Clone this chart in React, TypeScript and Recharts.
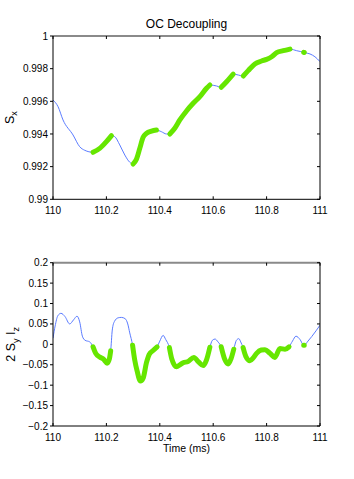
import React from 'react';
import { LineChart, Line, XAxis, YAxis } from 'recharts';

// ---- data ----
const tTop = [
  110.0, 110.019, 110.0375, 110.075, 110.1, 110.119, 110.15, 110.175, 110.2, 110.219,
  110.231, 110.25, 110.269, 110.2875, 110.3, 110.3125, 110.325, 110.3375, 110.35, 110.369,
  110.3875, 110.406, 110.425, 110.4375, 110.456, 110.475, 110.5, 110.525, 110.55, 110.575,
  110.5875, 110.6125, 110.63, 110.65, 110.675, 110.694, 110.7125, 110.731, 110.756, 110.781,
  110.8, 110.819, 110.8375, 110.8625, 110.8875, 110.9125, 110.939, 110.941, 110.9625, 110.981, 111.0,
];
const sx = [
  0.99608, 0.99567, 0.99486, 0.99394, 0.99322, 0.993, 0.99288, 0.99312, 0.99353, 0.9939,
  0.99384, 0.99333, 0.99271, 0.99227, 0.99216, 0.99245, 0.99312, 0.9938, 0.99404, 0.99418,
  0.99424, 0.99414, 0.994, 0.994, 0.99435, 0.99486, 0.99541, 0.99588, 0.99629, 0.9968,
  0.997, 0.99694, 0.99686, 0.9972, 0.99767, 0.99761, 0.99755, 0.99788, 0.99829, 0.99847,
  0.99857, 0.99873, 0.99898, 0.9991, 0.9992, 0.9991, 0.999, 0.99899, 0.9989, 0.99873, 0.99843,
];

const tBot = [
  110.0, 110.008, 110.018, 110.03, 110.045, 110.0625, 110.077, 110.09, 110.1, 110.11,
  110.12, 110.1375, 110.15, 110.16, 110.175, 110.19, 110.2025, 110.211, 110.216, 110.222,
  110.23, 110.244, 110.256, 110.27, 110.28, 110.2875, 110.298, 110.306, 110.315, 110.3275,
  110.3375, 110.35, 110.36, 110.375, 110.39, 110.4, 110.4125, 110.422, 110.436, 110.445,
  110.4625, 110.475, 110.4875, 110.506, 110.5275, 110.545, 110.5625, 110.575, 110.5875, 110.597,
  110.607, 110.618, 110.63, 110.644, 110.656, 110.667, 110.677, 110.687, 110.696, 110.703,
  110.712, 110.7225, 110.7375, 110.75, 110.7625, 110.78, 110.794, 110.8125, 110.831, 110.85,
  110.869, 110.884, 110.897, 110.91, 110.925, 110.939, 110.941, 110.955, 110.969, 110.985, 111.0,
];
const syiz = [
  0.015, 0.045, 0.07, 0.076, 0.068, 0.05, 0.06, 0.069, 0.055, 0.02,
  0.01, 0.006, -0.006, -0.022, -0.031, -0.037, -0.046, -0.036, -0.016, 0.035,
  0.056, 0.065, 0.066, 0.063, 0.05, 0.028, -0.002, -0.038, -0.065, -0.09,
  -0.083, -0.045, -0.025, -0.015, -0.006, 0.008, 0.022, 0.012, -0.008, -0.036,
  -0.055, -0.05, -0.045, -0.042, -0.032, -0.043, -0.052, -0.038, -0.007, 0.01,
  0.013, 0.006, -0.006, -0.038, -0.048, -0.035, -0.012, 0.01, 0.014, 0.006,
  -0.008, -0.03, -0.04, -0.033, -0.022, -0.014, -0.013, -0.022, -0.032, -0.01,
  -0.012, -0.006, 0.008, 0.02, 0.012, -0.002, -0.002, 0.008, 0.019, 0.033, 0.047,
];

// time windows highlighted in green (start, end)
const greenStarts = [110.148, 110.296, 110.434, 110.627, 110.709, 110.938];
const greenEnds = [110.22, 110.392, 110.59, 110.678, 110.89, 110.942];

const xTicks = [110, 110.2, 110.4, 110.6, 110.8, 111];
const yTicksTop = [0.99, 0.992, 0.994, 0.996, 0.998, 1];
const yTicksBot = [-0.2, -0.15, -0.1, -0.05, 0, 0.05, 0.1, 0.15, 0.2];

const titleText = 'OC Decoupling';
const xLabelText = 'Time (ms)';

// ---- styles ----
const FONT = '"Liberation Sans", Arial, Helvetica, sans-serif';
const BLUE = '#5a7bff';
const GREEN = '#66e600';
const TICK_FS = 10;

const inGreen = (t: number) => greenStarts.some((s, i) => t >= s && t <= greenEnds[i]);

const topData = tTop.map((t, i) => ({ t, all: sx[i], ctrl: inGreen(t) ? sx[i] : null }));
const botData = tBot.map((t, i) => ({ t, all: syiz[i], ctrl: inGreen(t) ? syiz[i] : null }));

const fmtX = (v: number) => String(+v.toFixed(1));
const fmtTop = (v: number) => String(+v.toFixed(3));
const fmtBot = (v: number) => String(+v.toFixed(2)).replace('-', '\u2212');
const empty = () => '';

const tickStyle = { fontSize: TICK_FS, fontFamily: FONT, fill: '#000' };

const TitleLabel = (props: any) => {
  const vb = props.viewBox || {};
  return (
    <text x={vb.x + vb.width / 2} y={28} textAnchor="middle" fontSize={12} fontFamily={FONT} fill="#000">
      {titleText}
    </text>
  );
};

const TimeLabel = (props: any) => {
  const vb = props.viewBox || {};
  return (
    <text x={vb.x + vb.width / 2} y={vb.y + 26} textAnchor="middle" fontSize={10.5} fontFamily={FONT} fill="#000">
      {xLabelText}
    </text>
  );
};

const SxLabel = (props: any) => {
  const vb = props.viewBox || {};
  const cy = vb.y + vb.height / 2;
  return (
    <text transform={`translate(13.5,${cy}) rotate(-90)`} textAnchor="middle" fontSize={12.5} fontFamily={FONT} fill="#000">
      S<tspan dy={3.5} fontSize={9}>x</tspan>
    </text>
  );
};

const SyIzLabel = (props: any) => {
  const vb = props.viewBox || {};
  const cy = vb.y + vb.height / 2;
  return (
    <text transform={`translate(15,${cy}) rotate(-90)`} textAnchor="middle" fontSize={12.5} fontFamily={FONT} fill="#000">
      2 S<tspan dy={3.5} fontSize={9}>y</tspan>
      <tspan dy={-3.5}> I</tspan>
      <tspan dy={3.5} fontSize={9}>z</tspan>
    </text>
  );
};

const Panel = ({ data, height, margin, yDomain, yTicks, yFmt, yLabel, xLabel, title, xAxisHeight }: any) => (
  <LineChart width={354} height={height} data={data} margin={margin} style={{ display: 'block' }}>
    <XAxis
      dataKey="t"
      type="number"
      domain={[110, 111]}
      ticks={xTicks}
      allowDataOverflow
      tickFormatter={fmtX}
      tick={tickStyle}
      tickSize={-3}
      tickMargin={10.5}
      height={xAxisHeight}
      axisLine={{ stroke: '#000' }}
      tickLine={{ stroke: '#000' }}
      label={xLabel ? { content: TimeLabel } : undefined}
      interval={0}
    />
    <XAxis
      xAxisId="top"
      orientation="top"
      mirror
      dataKey="t"
      type="number"
      domain={[110, 111]}
      ticks={xTicks}
      allowDataOverflow
      tickFormatter={empty}
      tickSize={3}
      axisLine={{ stroke: '#8a8a8a', strokeWidth: 2 }}
      tickLine={{ stroke: '#000' }}
      label={title ? { content: TitleLabel } : undefined}
      interval={0}
    />
    <YAxis
      type="number"
      domain={yDomain}
      ticks={yTicks}
      allowDataOverflow
      tickFormatter={yFmt}
      tick={tickStyle}
      tickSize={3}
      tickMargin={2}
      width={43}
      axisLine={{ stroke: '#000' }}
      tickLine={{ stroke: '#000' }}
      label={{ content: yLabel }}
      interval={0}
    />
    <YAxis
      yAxisId="right"
      orientation="right"
      mirror
      type="number"
      domain={yDomain}
      ticks={yTicks}
      allowDataOverflow
      tickFormatter={empty}
      tickSize={3}
      axisLine={{ stroke: '#000' }}
      tickLine={{ stroke: '#000' }}
      interval={0}
    />
    <Line
      dataKey="all"
      type="monotone"
      stroke={BLUE}
      strokeWidth={1}
      dot={false}
      isAnimationActive={false}
    />
    <Line
      dataKey="ctrl"
      type="monotone"
      stroke={GREEN}
      strokeWidth={5}
      strokeLinecap="round"
      strokeLinejoin="round"
      dot={false}
      connectNulls={false}
      isAnimationActive={false}
    />
  </LineChart>
);

export default function App() {
  return (
    <div style={{ position: 'absolute', left: 0, top: 0, width: 354, height: 479, background: '#fff' }}>
      <Panel
        data={topData}
        height={240}
        margin={{ top: 36, right: 34, bottom: 20.7, left: 10 }}
        yDomain={[0.99, 1]}
        yTicks={yTicksTop}
        yFmt={fmtTop}
        yLabel={SxLabel}
        title
        xAxisHeight={20}
      />
      <Panel
        data={botData}
        height={239}
        margin={{ top: 22.7, right: 34, bottom: 23, left: 10 }}
        yDomain={[-0.2, 0.2]}
        yTicks={yTicksBot}
        yFmt={fmtBot}
        yLabel={SyIzLabel}
        xLabel
        xAxisHeight={30}
      />
    </div>
  );
}
